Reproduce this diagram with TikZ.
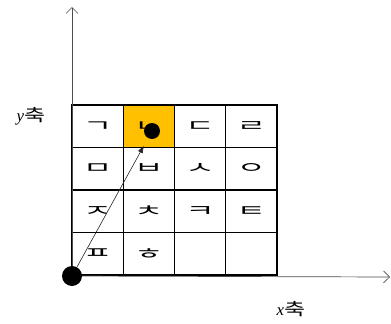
\documentclass[tikz,border=0pt]{standalone}
\usepackage{fontspec}
\setmainfont{Liberation Serif}
\newfontfamily\kr{Noto Sans CJK KR}
\usetikzlibrary{arrows.meta}
\definecolor{cellgold}{RGB}{255,192,0}
\newcommand{\jamo}[1]{\scalebox{2}[1]{\kr #1}}
\begin{document}
\begin{tikzpicture}[
  x=1bp,
  y=-1bp,
  every node/.style={font=\fontsize{16}{16}\selectfont},
  cell/.style={draw=black, line width=1.2bp, minimum width=51.25bp, minimum height=42.5bp, inner sep=0pt, outer sep=0pt},
  picked/.style={fill=cellgold},
  dot/.style={circle, fill=black, inner sep=0pt},
  axis/.style={draw=black!70, line width=0.7bp, -{Straight Barb[length=6bp, width=12bp]}},
  vec/.style={draw=black!85, line width=0.6bp, -{Triangle[length=7bp, width=5bp]}, shorten >=9bp}
]
  \useasboundingbox (0,0) rectangle (391,324);

  % grid of letters
  \foreach \ch [count=\i from 0] in {ㄱ,ㄴ,ㄷ,ㄹ,ㅁ,ㅂ,ㅅ,ㅇ,ㅈ,ㅊ,ㅋ,ㅌ,ㅍ,ㅎ,{},{}} {
    \pgfmathtruncatemacro{\row}{div(\i,4)}
    \pgfmathtruncatemacro{\col}{mod(\i,4)}
    \node[cell] (c\row\col) at ({72+51.25*(\col+0.5)}, {105+42.5*(\row+0.5)}) {\jamo{\ch}};
  }
  \node[cell, picked] (c01) at ({72+51.25*1.5}, {105+42.5*0.5}) {\jamo{ㄴ}};

  % axes
  \coordinate (org) at (72,276);
  \coordinate (xend) at (390,277);
  \coordinate (yend) at (72,7);
  \draw[axis] (org) -- (xend);
  \draw[axis] (org) -- (yend);
  \node[dot, minimum size=20bp] (o) at (org) {};

  % target point
  \node[dot, minimum size=16bp] (p) at (152,131) {};
  \draw[vec] (o) -- (p);

  \node (ylab) at (31,116) {\fontsize{17}{17}\selectfont\textit{y}\scalebox{1.35}[1]{\kr 축}};
  \node (xlab) at (291,309) {\fontsize{17}{17}\selectfont\textit{x}\scalebox{1.35}[1]{\kr 축}};
\end{tikzpicture}
\end{document}
